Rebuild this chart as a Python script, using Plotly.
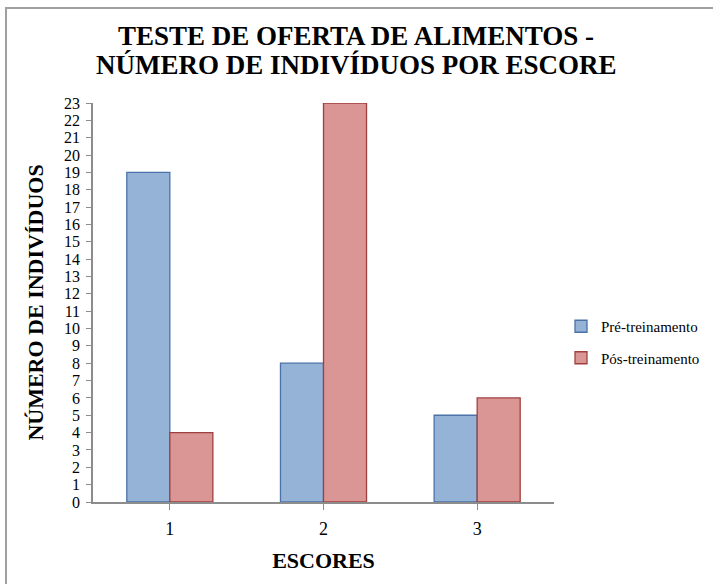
import plotly.graph_objects as go

# Food-offer test: number of individuals per score
escores = ["1", "2", "3"]
pre_treinamento = [19, 8, 5]
pos_treinamento = [4, 23, 6]
y_ticks = list(range(0, 24))
titulo = ["TESTE DE OFERTA DE ALIMENTOS -", "NÚMERO DE INDIVÍDUOS POR ESCORE"]

W, H = 713, 584
L, R, T, B = 93, 159, 103, 82
pw, ph = W - L - R, H - T - B

def px_to_paper_x(px):
    return (px - L) / pw

def px_to_paper_y(py):
    return 1 - (py - T) / ph

serif = "Liberation Serif"
axis_grey = "#8c8c8c"

fig = go.Figure()
fig.add_trace(go.Bar(
    x=escores, y=pre_treinamento, name="Pré-treinamento", legendgroup="pre",
    marker=dict(color="#95B3D7", line=dict(color="#4A72A8", width=1.3)),
))
fig.add_trace(go.Bar(
    x=escores, y=pos_treinamento, name="Pós-treinamento", legendgroup="pos",
    marker=dict(color="#D99694", line=dict(color="#A0403E", width=1.3)),
))

# outer frame (left and top edges)
fig.add_shape(
    type="path", xref="paper", yref="paper",
    path=f"M {px_to_paper_x(6)} {px_to_paper_y(H + 5)} L {px_to_paper_x(6)} {px_to_paper_y(8)} L {px_to_paper_x(W + 5)} {px_to_paper_y(8)}",
    line=dict(color="#a0a0a0", width=2),
)

# two-line bold title
for linha, yc in zip(titulo, [36, 65]):
    fig.add_annotation(
        text=f"<b>{linha}</b>", xref="paper", yref="paper",
        x=px_to_paper_x(356), y=px_to_paper_y(yc), xanchor="center", yanchor="middle",
        showarrow=False, font=dict(family=serif, size=27, color="black"),
    )

fig.update_layout(
    width=W, height=H,
    margin=dict(l=L, r=R, t=T, b=B, autoexpand=False),
    paper_bgcolor="white", plot_bgcolor="white",
    barmode="group", bargap=0.44, bargroupgap=0,
    font=dict(family=serif, color="black"),
    legend=dict(
        x=px_to_paper_x(561), y=px_to_paper_y(310), xanchor="left", yanchor="top",
        font=dict(family=serif, size=15, color="black"),
        tracegroupgap=9, itemwidth=30,
        bgcolor="rgba(0,0,0,0)",
    ),
    xaxis=dict(
        showline=True, linecolor=axis_grey, linewidth=1.5,
        ticks="outside", ticklen=6, tickcolor=axis_grey,
        ticklabelstandoff=4,
        tickfont=dict(family=serif, size=18, color="black"),
        title=dict(text="<b>ESCORES</b>", standoff=14,
                   font=dict(family=serif, size=22, color="black")),
        showgrid=False,
    ),
    yaxis=dict(
        range=[0, 23], tickvals=y_ticks,
        showline=True, linecolor=axis_grey, linewidth=1.5,
        ticks="outside", ticklen=5, tickcolor=axis_grey,
        ticklabelstandoff=3,
        tickfont=dict(family=serif, size=16, color="black"),
        title=dict(text="<b>NÚMERO DE INDIVÍDUOS</b>", standoff=14,
                   font=dict(family=serif, size=22, color="black")),
        showgrid=False, zeroline=False,
    ),
)

fig.write_html("out.html")
